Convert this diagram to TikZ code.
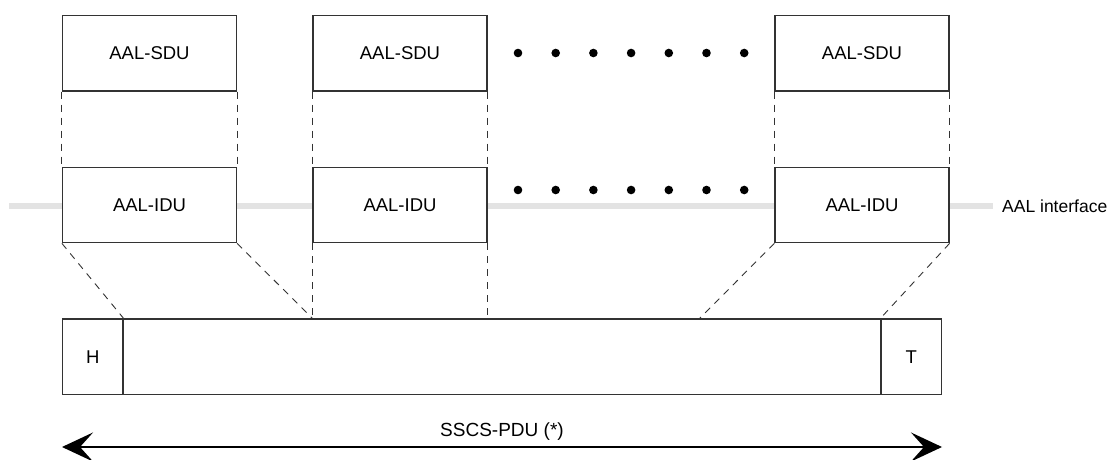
\documentclass[tikz,border=0pt]{standalone}
\usepackage{fontspec}
\setmainfont{Liberation Sans}
\usepackage{tikz}
\usetikzlibrary{positioning,arrows.meta,calc}
\usepackage{xcolor}
\definecolor{EdgeGray}{HTML}{333333}
\definecolor{IfGray}{HTML}{E3E3E3}

\begin{document}
\begin{tikzpicture}[x=1pt,y=-1pt,
  every node/.style={font=\fontsize{18.5}{22}\selectfont},
  unitbox/.style={draw=EdgeGray,line width=1.2pt,fill=white,minimum width=174pt,minimum height=75.5pt,inner sep=0pt},
  mapline/.style={draw=EdgeGray,line width=0.9pt,dash pattern=on 7pt off 6pt},
  ifline/.style={draw=IfGray,line width=6pt}]
\useasboundingbox (0,0) rectangle (1112,460);
% AAL interface line
\coordinate (ifl) at (9,206);
\node[anchor=west,inner sep=0pt,font=\fontsize{17.5}{21}\selectfont] (iflab) at (1002,206) {AAL interface};
\draw[ifline] (ifl) -- ([xshift=-9pt]iflab.west);
% SDU and IDU boxes
\node[unitbox] (sdu1) at (149.5,53.25) {AAL-SDU};
\node[unitbox] (sdu2) at (400,53.25) {AAL-SDU};
\node[unitbox] (sdu3) at (862,53.25) {AAL-SDU};
\node[unitbox] (idu1) at (149.5,205) {AAL-IDU};
\node[unitbox] (idu2) at (400,205) {AAL-IDU};
\node[unitbox] (idu3) at (862,205) {AAL-IDU};
\foreach \i in {0,...,6} {
  \fill (518+37.7*\i,53) circle (4.3);
  \fill (518+37.7*\i,190) circle (4.3);
}
% SSCS-PDU
\node[draw=EdgeGray,line width=1.2pt,minimum width=879pt,minimum height=75.5pt,inner sep=0pt] (bar) at (502,356.75) {};
\node[draw=EdgeGray,line width=1.2pt,minimum width=60.5pt,minimum height=75.5pt,inner sep=0pt,anchor=north west] (hdr) at (bar.north west) {H};
\node[draw=EdgeGray,line width=1.2pt,minimum width=60.5pt,minimum height=75.5pt,inner sep=0pt,anchor=north east] (trl) at (bar.north east) {T};
\coordinate (c2) at (idu2.south west |- bar.north);
\coordinate (c3) at (idu2.south east |- bar.north);
\coordinate (c4) at (699,319);
% mapping lines
\foreach \n in {1,2,3} {
  \draw[mapline] (sdu\n.south west) -- (idu\n.north west);
  \draw[mapline] (sdu\n.south east) -- (idu\n.north east);
}
\draw[mapline] (idu1.south west) -- (hdr.north east);
\draw[mapline] (idu1.south east) -- (c2);
\draw[mapline] (idu2.south west) -- (c2);
\draw[mapline] (idu2.south east) -- (c3);
\draw[mapline] (idu3.south west) -- (c4);
\draw[mapline] (idu3.south east) -- (trl.north west);
% length arrow
\coordinate (al) at (62,447);
\coordinate (ar) at (942,447);
\draw[{Stealth[length=31pt,width=29pt,inset=13pt]}-{Stealth[length=31pt,width=29pt,inset=13pt]},line width=1.5pt,black] (al) -- node[above=2pt,text=black,font=\fontsize{19}{22}\selectfont] (pdulab) {SSCS-PDU (*)} (ar);
\end{tikzpicture}
\end{document}
